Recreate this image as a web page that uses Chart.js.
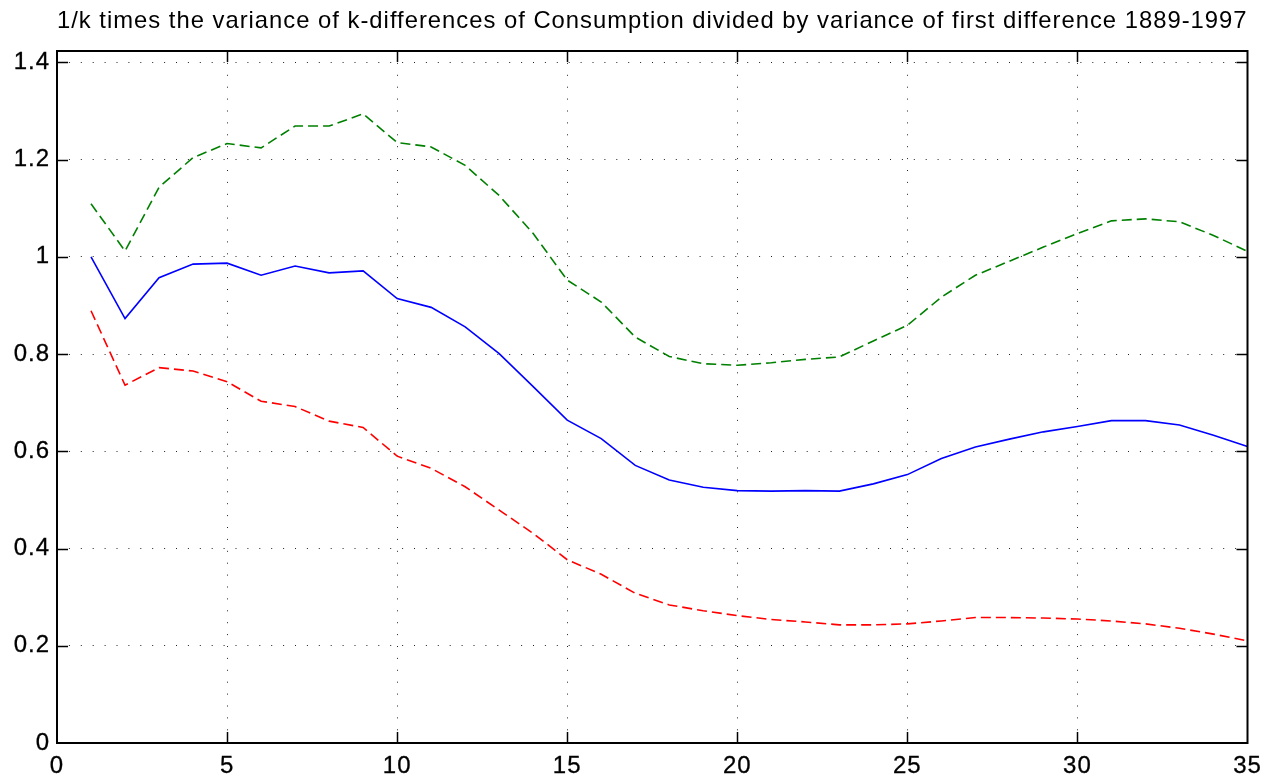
<!DOCTYPE html>
<html>
<head>
<meta charset="utf-8">
<script src="https://cdn.jsdelivr.net/npm/chart.js@4.4.1/dist/chart.umd.min.js"></script>
<style>
  html, body { margin: 0; padding: 0; background: #fff; }
  #wrap { width: 1273px; height: 783px; position: relative; }
</style>
</head>
<body>
<div id="wrap"><canvas id="c" width="1273" height="783"></canvas></div>
<script>
const titleText = '1/k times the variance of k-differences of Consumption divided by variance of first difference 1889-1997';
const kValues = [1,2,3,4,5,6,7,8,9,10,11,12,13,14,15,16,17,18,19,20,21,22,23,24,25,26,27,28,29,30,31,32,33,34,35];
const varianceRatio = [1.000,0.873,0.957,0.985,0.987,0.962,0.981,0.967,0.971,0.914,0.896,0.856,0.801,0.733,0.664,0.626,0.571,0.541,0.526,0.519,0.518,0.519,0.518,0.533,0.552,0.585,0.609,0.625,0.640,0.651,0.663,0.663,0.654,0.633,0.610];
const upperBand = [1.109,1.012,1.143,1.204,1.233,1.224,1.269,1.269,1.294,1.235,1.226,1.188,1.126,1.048,0.952,0.907,0.835,0.795,0.780,0.777,0.782,0.789,0.794,0.827,0.859,0.917,0.962,0.991,1.020,1.048,1.074,1.078,1.072,1.044,1.011];
const lowerBand = [0.889,0.736,0.772,0.765,0.743,0.703,0.692,0.662,0.649,0.590,0.565,0.527,0.479,0.431,0.377,0.347,0.308,0.284,0.272,0.262,0.254,0.249,0.243,0.243,0.245,0.251,0.258,0.258,0.257,0.255,0.251,0.245,0.236,0.224,0.210];
const xTickValues = [0,5,10,15,20,25,30,35];
const xTickLabels = ['0','5','10','15','20','25','30','35'];
const yTickValues = [0,0.2,0.4,0.6,0.8,1.0,1.2,1.4];
const yTickLabels = ['0','0.2','0.4','0.6','0.8','1','1.2','1.4'];

function pts(vals) { return kValues.map((k, i) => ({x: k, y: vals[i]})); }

const FONT = "'Liberation Sans', Arial, Helvetica, sans-serif";
const SPACING = '1px';

const spacingPlugin = {
  id: 'spacing',
  beforeLayout(chart) { chart.ctx.letterSpacing = SPACING; },
  beforeDraw(chart) { chart.ctx.letterSpacing = SPACING; }
};

const framePlugin = {
  id: 'frame',
  afterDraw(chart) {
    const ctx = chart.ctx;
    const a = chart.chartArea;
    const xs = chart.scales.x, ys = chart.scales.y;
    const tl = 11;
    ctx.save();
    ctx.strokeStyle = '#000';
    ctx.lineWidth = 1.5;
    ctx.beginPath();
    xs.ticks.forEach(t => {
      const px = Math.round(xs.getPixelForValue(t.value)) + 0.5;
      if (t.value === xs.min || t.value === xs.max) return;
      ctx.moveTo(px, a.bottom); ctx.lineTo(px, a.bottom - tl);
      ctx.moveTo(px, a.top); ctx.lineTo(px, a.top + tl);
    });
    ys.ticks.forEach(t => {
      const py = Math.round(ys.getPixelForValue(t.value)) + 0.5;
      if (t.value === ys.min) return;
      ctx.moveTo(a.left, py); ctx.lineTo(a.left + tl, py);
      ctx.moveTo(a.right, py); ctx.lineTo(a.right - tl, py);
    });
    ctx.stroke();
    ctx.lineWidth = 2;
    ctx.strokeRect(a.left, a.top, a.right - a.left, a.bottom - a.top);
    ctx.restore();
  }
};

new Chart(document.getElementById('c'), {
  type: 'line',
  data: {
    datasets: [
      { label: 'ratio', data: pts(varianceRatio), borderColor: '#0000ff', borderWidth: 1.6, pointRadius: 0, tension: 0, fill: false },
      { label: 'upper', data: pts(upperBand), borderColor: '#008000', borderWidth: 1.6, borderDash: [10, 5], pointRadius: 0, tension: 0, fill: false },
      { label: 'lower', data: pts(lowerBand), borderColor: '#ff0000', borderWidth: 1.6, borderDash: [10, 5], pointRadius: 0, tension: 0, fill: false }
    ]
  },
  options: {
    responsive: false,
    animation: false,
    devicePixelRatio: 1,
    layout: { padding: { left: 0, right: 25.5, top: 0, bottom: 0 } },
    plugins: {
      legend: { display: false },
      tooltip: { enabled: false },
      title: {
        display: true,
        text: titleText,
        fullSize: false,
        color: '#000',
        font: { family: FONT, size: 24, weight: 'normal', lineHeight: 1.2 },
        padding: { top: 7, bottom: 15.2 }
      }
    },
    scales: {
      x: {
        type: 'linear',
        min: 0, max: 35,
        afterBuildTicks(s) { s.ticks = xTickValues.map(v => ({value: v})); },
        afterFit(s) { s.height = 40; },
        ticks: {
          color: '#000', padding: 8.5, maxRotation: 0, autoSkip: false,
          font: { family: FONT, size: 24 },
          textStrokeColor: '#000', textStrokeWidth: 0.3,
          callback: (v) => { const i = xTickValues.indexOf(v); return i >= 0 ? xTickLabels[i] : ''; }
        },
        grid: { color: '#222', lineWidth: 1, drawTicks: false },
        border: { display: false, dash: [1, 10.9] }
      },
      y: {
        type: 'linear',
        min: 0, max: 1.4233,
        afterBuildTicks(s) { s.ticks = yTickValues.map(v => ({value: v})); },
        afterFit(s) { s.width = 57; },
        ticks: {
          color: '#000', padding: 7,
          font: { family: FONT, size: 24 },
          textStrokeColor: '#000', textStrokeWidth: 0.3,
          callback: (v) => { const i = yTickValues.findIndex(t => Math.abs(t - v) < 1e-9); return i >= 0 ? yTickLabels[i] : ''; }
        },
        grid: { color: '#222', lineWidth: 1, drawTicks: false },
        border: { display: false, dash: [1, 10.9] }
      }
    }
  },
  plugins: [spacingPlugin, framePlugin]
});
</script>
</body>
</html>
